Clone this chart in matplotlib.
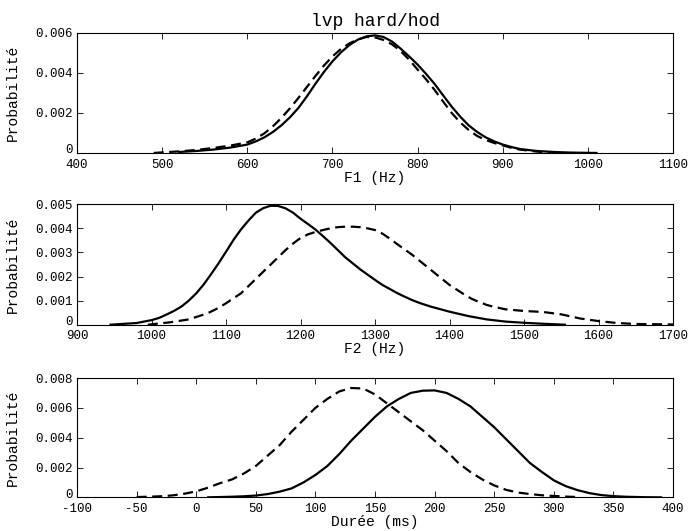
import matplotlib
matplotlib.use("Agg")
import matplotlib.pyplot as plt
from matplotlib.transforms import ScaledTranslation

plt.rcParams["font.family"] = ["Liberation Mono", "DejaVu Sans Mono"]

# F1 (Hz) - solid and dashed density curves
f1_solid_x = [520, 540, 560, 580, 600, 610, 620, 630, 640, 650, 660, 670, 680, 690, 700, 710,
              720, 730, 740, 750, 760, 770, 780, 790, 800, 810, 820, 830, 840, 850, 860, 870,
              880, 890, 900, 910, 920, 940, 960, 980, 1010]
f1_solid_y = [0.00005, 0.0001, 0.00017, 0.00027, 0.00042, 0.00058, 0.00078, 0.00105, 0.00138,
              0.00178, 0.00225, 0.00283, 0.00346, 0.00405, 0.00458, 0.00503, 0.0054, 0.00567,
              0.00583, 0.00588, 0.0058, 0.00557, 0.00522, 0.00483, 0.00442, 0.00395, 0.00345,
              0.00288, 0.00232, 0.00182, 0.00138, 0.00105, 0.00078, 0.00058, 0.00042, 0.0003,
              0.0002, 0.0001, 0.00005, 0.00002, 0.0]
f1_dash_x = [490, 500, 520, 540, 560, 580, 600, 610, 620, 630, 640, 650, 660, 670, 680, 690,
             700, 710, 720, 730, 740, 750, 760, 770, 780, 790, 800, 810, 820, 830, 840, 850,
             860, 870, 880, 890, 900, 910, 920, 940, 960]
f1_dash_y = [0.0, 0.00003, 0.00008, 0.00015, 0.00025, 0.00037, 0.00053, 0.00072, 0.00098,
             0.00133, 0.00175, 0.00223, 0.00275, 0.0033, 0.00385, 0.00437, 0.00483, 0.0052,
             0.00548, 0.00568, 0.0058, 0.00578, 0.00565, 0.00543, 0.0051, 0.00467, 0.00417,
             0.00368, 0.00315, 0.00257, 0.002, 0.00153, 0.00115, 0.00085, 0.00065, 0.0005,
             0.00038, 0.00026, 0.00017, 0.00007, 0.0]

# F2 (Hz)
f2_solid_x = [945, 960, 980, 1000, 1010, 1020, 1030, 1040, 1050, 1060, 1070, 1080, 1090, 1100,
              1110, 1120, 1130, 1140, 1150, 1160, 1170, 1180, 1190, 1200, 1210, 1220, 1230,
              1240, 1250, 1260, 1270, 1280, 1290, 1300, 1310, 1320, 1330, 1340, 1350, 1360,
              1375, 1400, 1425, 1450, 1475, 1500, 1525, 1555]
f2_solid_y = [0.0, 0.00003, 0.00007, 0.00019, 0.00028, 0.00042, 0.00057, 0.00075, 0.001,
              0.0013, 0.00167, 0.0021, 0.00255, 0.00303, 0.00352, 0.00395, 0.00432, 0.00465,
              0.00484, 0.00494, 0.00493, 0.00483, 0.00465, 0.0044, 0.00418, 0.00395, 0.00368,
              0.0034, 0.0031, 0.0028, 0.00255, 0.0023, 0.00208, 0.00186, 0.00165, 0.00148,
              0.00131, 0.00116, 0.00102, 0.0009, 0.00075, 0.00054, 0.00036, 0.00022, 0.00013,
              0.00008, 0.00004, 0.0]
f2_dash_x = [995, 1025, 1050, 1075, 1090, 1100, 1110, 1120, 1130, 1140, 1150, 1160, 1170, 1180,
             1190, 1200, 1210, 1220, 1230, 1240, 1250, 1260, 1270, 1280, 1290, 1300, 1310,
             1320, 1330, 1340, 1350, 1360, 1370, 1380, 1390, 1400, 1410, 1420, 1430, 1440,
             1450, 1460, 1475, 1500, 1525, 1550, 1575, 1600, 1625, 1650, 1700]
f2_dash_y = [0.0, 0.0001, 0.00022, 0.00047, 0.0007, 0.00089, 0.0011, 0.0013, 0.0016, 0.0019,
             0.0022, 0.0025, 0.0028, 0.0031, 0.00337, 0.0036, 0.00375, 0.00385, 0.00393, 0.004,
             0.00405, 0.00407, 0.00407, 0.00405, 0.004, 0.00393, 0.00378, 0.00357, 0.00334,
             0.00312, 0.0029, 0.00265, 0.0024, 0.00215, 0.0019, 0.00165, 0.00145, 0.00125,
             0.00107, 0.00094, 0.00082, 0.00074, 0.00064, 0.00057, 0.00053, 0.00043, 0.00026,
             0.00015, 0.00007, 0.00003, 0.00001]

# Durée (ms)
dur_solid_x = [10, 20, 30, 40, 50, 60, 70, 80, 90, 100, 110, 120, 130, 140, 150, 160, 170, 180,
               190, 200, 210, 220, 230, 240, 250, 260, 270, 280, 290, 300, 310, 320, 330, 340,
               350, 360, 375, 390]
dur_solid_y = [0.0, 0.00002, 0.00004, 0.00007, 0.00012, 0.00022, 0.00038, 0.0006, 0.001, 0.0015,
               0.0021, 0.0029, 0.0038, 0.0046, 0.0054, 0.0061, 0.0066, 0.007, 0.00715, 0.00717,
               0.007, 0.0066, 0.0061, 0.0054, 0.0047, 0.0039, 0.0031, 0.0023, 0.0017, 0.00114,
               0.00075, 0.00048, 0.00028, 0.00015, 0.00008, 0.00004, 0.00001, 0.0]
dur_dash_x = [-50, -40, -30, -20, -10, 0, 10, 20, 30, 40, 50, 60, 70, 80, 90, 100, 110, 120,
              130, 140, 150, 160, 170, 180, 190, 200, 210, 220, 230, 240, 250, 260, 270, 280,
              290, 300, 310, 320]
dur_dash_y = [0.00002, 0.00004, 0.00007, 0.00013, 0.00024, 0.0004, 0.00065, 0.00095, 0.0012,
              0.0016, 0.0021, 0.0028, 0.0035, 0.0044, 0.0052, 0.006, 0.0066, 0.0071, 0.00733,
              0.0073, 0.0069, 0.0063, 0.0057, 0.0051, 0.0045, 0.0038, 0.0031, 0.0023, 0.0017,
              0.0012, 0.0008, 0.0005, 0.00032, 0.00022, 0.00014, 0.00009, 0.00005, 0.00002]

title = "lvp hard/hod"
xlabels = ["F1 (Hz)", "F2 (Hz)", "Durée (ms)"]
ylabel = "Probabilité"

xticks = [[400, 500, 600, 700, 800, 900, 1000, 1100],
          [900, 1000, 1100, 1200, 1300, 1400, 1500, 1600, 1700],
          [-100, -50, 0, 50, 100, 150, 200, 250, 300, 350, 400]]
yticks = [[0, 0.002, 0.004, 0.006],
          [0, 0.001, 0.002, 0.003, 0.004, 0.005],
          [0, 0.002, 0.004, 0.006, 0.008]]
ytick_labels = [["0", "0.002", "0.004", "0.006"],
                ["0", "0.001", "0.002", "0.003", "0.004", "0.005"],
                ["0", "0.002", "0.004", "0.006", "0.008"]]

series = [(f1_solid_x, f1_solid_y, f1_dash_x, f1_dash_y),
          (f2_solid_x, f2_solid_y, f2_dash_x, f2_dash_y),
          (dur_solid_x, dur_solid_y, dur_dash_x, dur_dash_y)]

fig = plt.figure(figsize=(6.89, 5.31), dpi=100, facecolor="white")
boxes = [[0.1118, 0.7119, 0.865, 0.226],
         [0.1118, 0.3885, 0.865, 0.2268],
         [0.1118, 0.0634, 0.865, 0.2247]]

for i in range(3):
    ax = fig.add_axes(boxes[i])
    sx, sy, dx, dy = series[i]
    ax.plot(sx, sy, color="black", lw=1.6, solid_joinstyle="round")
    ax.plot(dx, dy, color="black", lw=1.6, linestyle=(0, (4.5, 2.5)))
    ax.set_xlim(xticks[i][0], xticks[i][-1])
    ax.set_ylim(yticks[i][0], yticks[i][-1])
    ax.set_xticks(xticks[i])
    ax.set_xticklabels([str(v) for v in xticks[i]])
    ax.set_yticks(yticks[i])
    ax.set_yticklabels(ytick_labels[i])
    ax.tick_params(direction="in", top=True, right=True, length=4, width=0.6,
                   labelsize=9)
    ax.tick_params(axis="x", pad=4)
    ax.tick_params(axis="y", pad=3)
    # lift the "0" label a little so it clears the first x label
    lab0 = ax.get_yticklabels()[0]
    lab0.set_transform(lab0.get_transform() + ScaledTranslation(0, 3 / 72, fig.dpi_scale_trans))
    for sp in ax.spines.values():
        sp.set_linewidth(0.8)
    ax.set_xlabel(xlabels[i], fontsize=10.5, labelpad=0)
    ax.set_ylabel(ylabel, fontsize=10.5)
    ax.yaxis.set_label_coords(-0.096, 0.5)
    if i == 0:
        ax.set_title(title, fontsize=13, pad=5)

fig.savefig("out.png", dpi=100, facecolor="white")
